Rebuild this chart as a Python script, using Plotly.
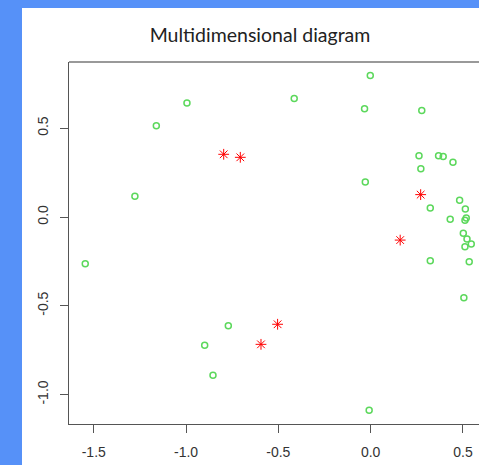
import plotly.graph_objects as go

# Data
green_x = [-0.002, -0.995, -0.414, -0.033, 0.277, -1.161, 0.262, 0.368, 0.393, 0.446,
           0.272, -1.277, -0.029, 0.482, 0.323, 0.513, 0.431, 0.518, 0.511, 0.502,
           0.522, 0.545, 0.511, 0.323, 0.534, 0.505, -1.546, -0.771, -0.899, -0.854, -0.008]
green_y = [0.796, 0.642, 0.667, 0.610, 0.600, 0.514, 0.345, 0.345, 0.340, 0.308,
           0.272, 0.117, 0.197, 0.094, 0.051, 0.045, -0.013, -0.006, -0.019, -0.092,
           -0.124, -0.152, -0.167, -0.246, -0.252, -0.454, -0.263, -0.612, -0.722, -0.891, -1.088]
red_x = [-0.796, -0.706, 0.271, 0.160, -0.504, -0.594]
red_y = [0.353, 0.336, 0.126, -0.130, -0.604, -0.717]

x_ticks = [-1.5, -1.0, -0.5, 0.0, 0.5]
y_ticks = [-1.0, -0.5, 0.0, 0.5]
title_text = "Multidimensional diagram"

fig = go.Figure()
fig.add_trace(go.Scatter(x=green_x, y=green_y, mode="markers",
                         marker=dict(symbol="circle-open", size=6, color="#5CD85C",
                                     line=dict(width=1.5, color="#5CD85C")),
                         hoverinfo="skip"))
fig.add_trace(go.Scatter(x=red_x, y=red_y, mode="markers",
                         marker=dict(symbol="asterisk-open", size=9, color="#FF0000",
                                     line=dict(width=1.0, color="#FF0000")),
                         hoverinfo="skip"))

axis_color = "#555555"
tick_font = dict(family="Liberation Sans, Arial", size=14, color="#333333")
fig.update_layout(
    width=479, height=465,
    margin=dict(l=69, r=0, t=62, b=41),
    paper_bgcolor="#5691F8",
    plot_bgcolor="white",
    showlegend=False,
    title=dict(text=title_text, x=(260 - 69) / 410, xref="paper", xanchor="center",
               y=1 - 35 / 465, yanchor="middle",
               font=dict(family="Lato, Open Sans, sans-serif", size=19.5, color="#222222")),
    xaxis=dict(range=[-1.634, 0.587], tickvals=x_ticks,
               ticktext=[f"{v:.1f}" for v in x_ticks],
               showgrid=False, zeroline=False, showline=True, linecolor=axis_color,
               linewidth=1.3, ticks="outside", ticklen=8, tickcolor=axis_color,
               tickwidth=1.2, ticklabelstandoff=7, tickfont=tick_font),
    yaxis=dict(range=[-1.1655, 0.8727], tickvals=y_ticks,
               ticktext=[f"{v:.1f}" for v in y_ticks],
               tickangle=-90,
               showgrid=False, zeroline=False, showline=True, linecolor=axis_color,
               linewidth=1.3, ticks="outside", ticklen=8, tickcolor=axis_color,
               tickwidth=1.2, ticklabelstandoff=6, tickfont=tick_font),
    shapes=[
        dict(type="rect", xref="paper", yref="paper",
             x0=(22 - 69) / 410, x1=1.1, y0=-0.2, y1=(424.3 - 8) / 362.3,
             fillcolor="white", line=dict(width=0), layer="below"),
        dict(type="line", xref="paper", yref="paper", x0=0, x1=1.05, y0=1, y1=1,
             line=dict(color="#777777", width=1.5), layer="above"),
    ],
)

fig.write_html("out.html", config={"displayModeBar": False},
               post_script="document.body.style.margin='0';document.body.style.overflow='hidden';")
